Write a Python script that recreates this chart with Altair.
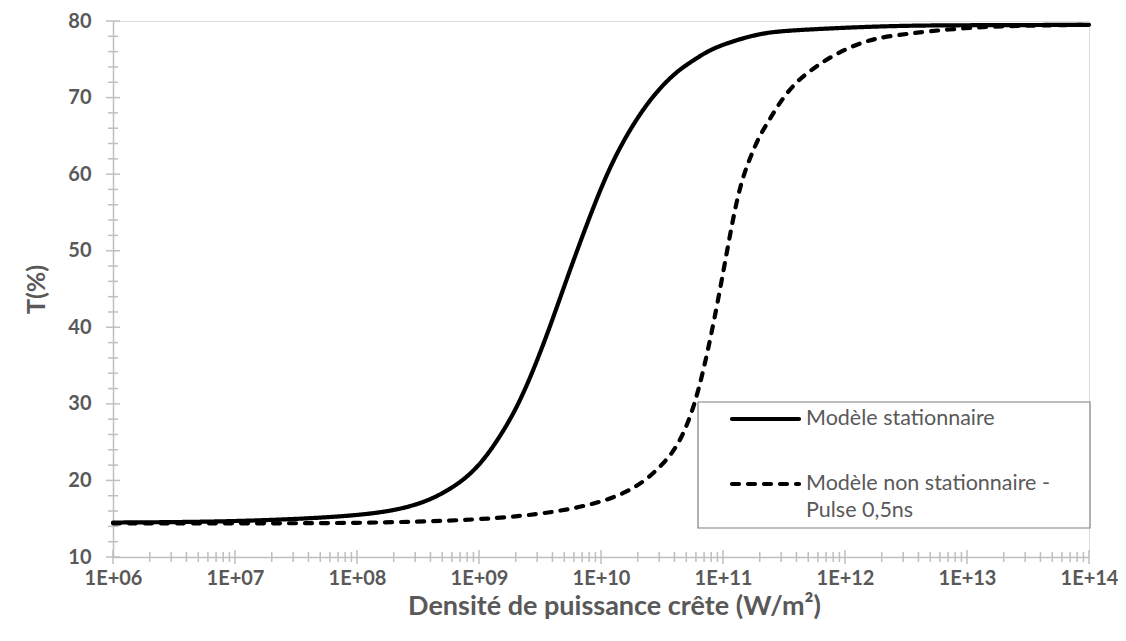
import altair as alt
import pandas as pd

# ---------------- data ----------------
series_names = ["Modèle stationnaire", "Modèle non stationnaire - Pulse 0,5ns"]

x_stat = [1e6, 1e7, 1e8, 2.7e8, 5.1e8, 9.5e8, 1.58e9, 2.29e9, 3.59e9, 5.25e9,
          8.3e9, 1.17e10, 1.62e10, 2.24e10, 3.02e10, 4.17e10, 5.75e10, 7.76e10,
          1.07e11, 2.0e11, 3.55e11, 2.34e12, 1e13, 1e14]
t_stat = [14.5, 14.6, 15.3, 16.4, 18.2, 21.2, 26.3, 31.0, 38.8, 46.4,
          55.0, 60.8, 65.1, 68.6, 71.2, 73.4, 74.9, 76.2,
          77.1, 78.4, 78.8, 79.4, 79.45, 79.5]

x_dyn = [1e6, 1e7, 1e8, 1e9, 4.57e9, 1.66e10, 3.24e10, 4.57e10, 6.31e10, 8.91e10,
         1.15e11, 1.38e11, 1.66e11, 2.0e11, 2.45e11, 2.95e11, 3.98e11, 5.5e11,
         7.6e11, 1.1e12, 1.58e12, 2.34e12, 1e13, 3.2e13, 1e14]
t_dyn = [14.4, 14.4, 14.4, 14.8, 15.8, 18.0, 22.0, 25.2, 31.2, 42.5,
         52.5, 58.6, 62.1, 65.1, 67.3, 69.5, 72.1, 73.8,
         75.3, 76.6, 77.5, 78.1, 79.2, 79.4, 79.5]

x_major = [1e6, 1e7, 1e8, 1e9, 1e10, 1e11, 1e12, 1e13, 1e14]
x_minor = [m * d for d in x_major[:-1] for m in range(2, 10)]
y_major = [10, 20, 30, 40, 50, 60, 70, 80]
y_minor = [v for v in range(10, 81, 2) if v % 10]

x_title = "Densité de puissance crête (W/m²)"
y_title = "T(%)"
legend_line1 = "Modèle stationnaire"
legend_line2a = "Modèle non stationnaire -"
legend_line2b = "Pulse 0,5ns"

# ---------------- style ----------------
W, H = 976, 536
FONT = "Lato"
TXT = "#595959"
AXC = "#bfbfbf"
LBL = 20

df = pd.concat([
    pd.DataFrame({"x": x_stat, "T": t_stat, "s": series_names[0]}),
    pd.DataFrame({"x": x_dyn, "T": t_dyn, "s": series_names[1]}),
])

xscale = alt.Scale(type="log", domain=[1e6, 1e14], nice=False)
yscale = alt.Scale(domain=[10, 80], nice=False, zero=False)

label_expr = ("'1E+' + (round(log(datum.value)/LN10) < 10 ? '0' : '') + "
              "round(log(datum.value)/LN10)")

x_axis = alt.Axis(values=x_major, labelExpr=label_expr, ticks=False, grid=False,
                  domainColor=AXC, domainWidth=1.5, labelFont=FONT, labelFontSize=LBL,
                  labelFontWeight="bold", labelColor=TXT, labelPadding=11,
                  labelFlush=False, labelOverlap=False,
                  title=x_title, titleFont=FONT, titleFontSize=27, titleFontWeight="bold",
                  titleColor=TXT, titlePadding=5, titleX=501)
y_axis = alt.Axis(values=y_major, ticks=False, grid=False, domainColor=AXC, domainWidth=1.5,
                  labelFont=FONT, labelFontSize=LBL, labelFontWeight="bold", labelColor=TXT,
                  labelPadding=22, labelFlush=False, labelOverlap=False,
                  title=y_title, titleFont=FONT, titleFontSize=25,
                  titleFontWeight="bold", titleColor=TXT, titlePadding=18)

lines = alt.Chart(df).mark_line(color="black", strokeWidth=4.2, strokeCap="round",
                                interpolate="basis").encode(
    x=alt.X("x:Q", scale=xscale, axis=x_axis),
    y=alt.Y("T:Q", scale=yscale, axis=y_axis),
    strokeDash=alt.StrokeDash("s:N", scale=alt.Scale(domain=series_names,
                                                      range=[[1, 0], [7, 9]]), legend=None),
    detail="s:N",
)

def yticks(vals, half):
    return alt.Chart(pd.DataFrame({"T": vals})).mark_rule(color=AXC, strokeWidth=1.5).encode(
        y=alt.Y("T:Q", scale=yscale, axis=y_axis), x=alt.value(-half), x2=alt.value(half))

def xticks(vals, half):
    return alt.Chart(pd.DataFrame({"x": vals})).mark_rule(color=AXC, strokeWidth=1.5).encode(
        x=alt.X("x:Q", scale=xscale, axis=x_axis), y=alt.value(H - half), y2=alt.value(H + half))

one = pd.DataFrame({"k": [0]})
leg_box = alt.Chart(one).mark_rect(fill="white", stroke="#7f7f7f", strokeWidth=1.2).encode(
    x=alt.value(585), x2=alt.value(977), y=alt.value(381), y2=alt.value(507))
leg_solid = alt.Chart(one).mark_rule(color="black", strokeWidth=4.2, strokeCap="round").encode(
    x=alt.value(619), x2=alt.value(686), y=alt.value(398))
leg_dash = alt.Chart(one).mark_rule(color="black", strokeWidth=4.2, strokeCap="round",
                                    strokeDash=[7, 9]).encode(
    x=alt.value(619), x2=alt.value(686), y=alt.value(463))

def leg_text(txt, y):
    return alt.Chart(one).mark_text(text=txt, font=FONT, fontSize=21.5, color=TXT,
                                    align="left", baseline="middle").encode(
        x=alt.value(693), y=alt.value(y))

chart = alt.layer(
    yticks(y_minor, 5), yticks(y_major, 7), xticks(x_minor, 5), xticks(x_major, 7),
    lines, leg_box, leg_solid, leg_dash,
    leg_text(legend_line1, 398), leg_text(legend_line2a, 463), leg_text(legend_line2b, 490),
).properties(
    width=W, height=H,
    autosize=alt.AutoSizeParams(type="none"),
    padding={"left": 105, "top": 13, "right": 29, "bottom": 80},
).configure_view(strokeWidth=0).configure(background="white")

chart.save("out.html", embed_options={"renderer": "svg", "actions": False})
